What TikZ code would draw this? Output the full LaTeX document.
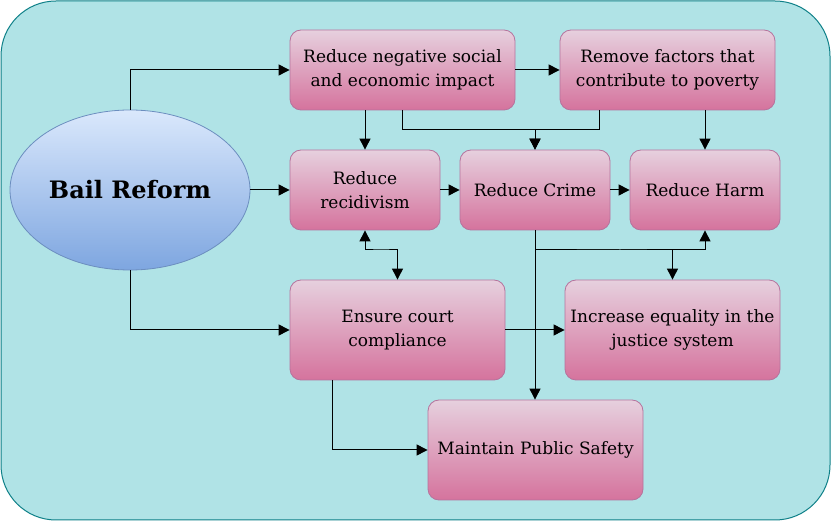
\documentclass[tikz,border=0pt]{standalone}
\usepackage{fontspec}
\setmainfont{DejaVu Serif}
\usetikzlibrary{arrows.meta,calc,shapes.geometric}
\definecolor{bgfill}{HTML}{B0E3E6}
\definecolor{bgline}{HTML}{0E8088}
\definecolor{pinktop}{HTML}{E6D0DE}
\definecolor{pinkbot}{HTML}{D5739D}
\definecolor{pinkline}{HTML}{B5739D}
\definecolor{bluetop}{HTML}{DAE8FC}
\definecolor{bluebot}{HTML}{7EA6E0}
\definecolor{blueline}{HTML}{6C8EBF}
\tikzset{
  box/.style={draw=pinkline, top color=pinktop, bottom color=pinkbot, rounded corners=11pt,
    align=center, inner sep=2pt, font=\fontsize{17}{24}\selectfont, text=black, line width=0.8pt},
  arr/.style={-{Triangle[length=11pt,width=11pt]}, line width=1pt},
  arrb/.style={{Triangle[length=11pt,width=11pt]}-{Triangle[length=11pt,width=11pt]}, line width=1pt},
}
\begin{document}
\begin{tikzpicture}[x=1pt,y=-1pt]
\useasboundingbox (0,0) rectangle (831,521);
\draw[bgline, fill=bgfill, line width=1pt, rounded corners=55pt] (1,1) rectangle (830,520);
\node[ellipse, draw=blueline, top color=bluetop, bottom color=bluebot, minimum width=240pt, minimum height=160pt,
  inner sep=0pt, font=\fontsize{24}{28}\selectfont\bfseries, line width=0.8pt] (br) at (130,190) {Bail Reform};
\node[box, minimum width=225pt, minimum height=80pt] (A) at (402.5,70) {Reduce negative social\\and economic impact};
\node[box, minimum width=215pt, minimum height=80pt] (B) at (667.5,70) {Remove factors that\\contribute to poverty};
\node[box, minimum width=150pt, minimum height=80pt] (C) at (365,190) {Reduce\\recidivism};
\node[box, minimum width=150pt, minimum height=80pt] (D) at (535,190) {Reduce Crime};
\node[box, minimum width=150pt, minimum height=80pt] (E) at (705,190) {Reduce Harm};
\node[box, minimum width=215pt, minimum height=100pt] (F) at (397.5,330) {Ensure court\\compliance};
\node[box, minimum width=215pt, minimum height=100pt] (G) at (672.5,330) {Increase equality in the\\justice system};
\node[box, minimum width=215pt, minimum height=100pt] (H) at (535.5,450) {Maintain Public Safety};
\coordinate (j1) at (535,130);
\coordinate (j2) at (381,250);
\coordinate (j3) at (620,250);
\draw[arr] (br.north) |- (A.west);
\draw[arr] (br.east) -- (C.west);
\draw[arr] (br.south) |- (F.west);
\draw[arr] (A.east) -- (B.west);
\draw[arr] (C.north |- A.south) -- (C.north);
\draw[arr] (A.south) |- (j1) -- (D.north);
\draw[arr] ($(B.south west)+(40,0)$) |- (j1) -- (D.north);
\draw[arr] (E.north |- B.south) -- (E.north);
\draw[arr] (C.east) -- (D.west);
\draw[arr] (D.east) -- (E.west);
\draw[arrb] (C.south) |- (j2) -| (F.north);
\draw[arr] (D.south) -- (D.south |- H.north);
\draw[arr] (D.south) |- (j3) -| (E.south);
\draw[arr] (D.south) |- (j3) -| (G.north);
\draw[arr] (F.east) -- (G.west);
\draw[arr] ($(F.south west)+(43,0)$) |- (H.west);
\end{tikzpicture}
\end{document}
